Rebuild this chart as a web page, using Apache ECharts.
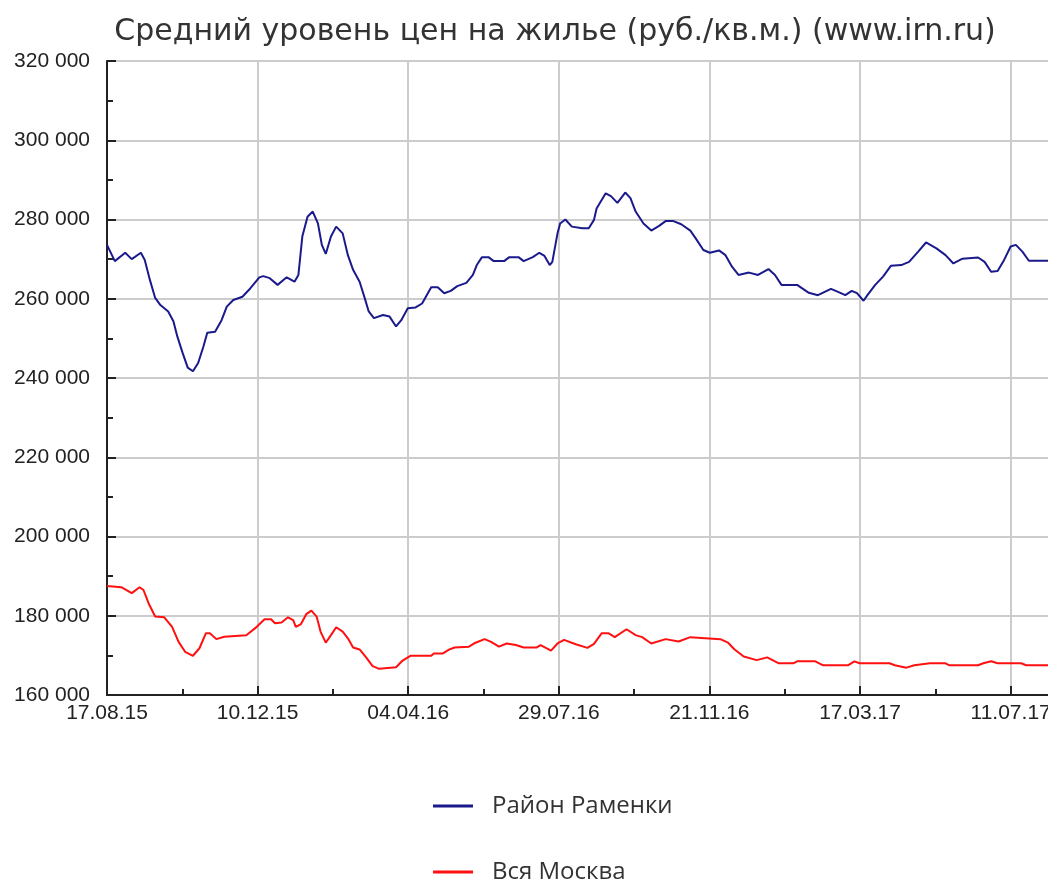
<!DOCTYPE html>
<html>
<head>
<meta charset="utf-8">
<script src="https://cdn.jsdelivr.net/npm/echarts@6/dist/echarts.min.js"></script>
<style>
html,body{margin:0;padding:0;overflow:hidden;background:#fff;}
#chart{width:1110px;height:881px;}
</style>
</head>
<body>
<div id="chart"></div>
<script>
// x values: days since 17.08.2015
const startDate = [2015, 7, 17];
const tickIntervalDays = 347 / 3;

const ramenkiDays = [0,6,14,19,26,29,33,37,41,47,51,54,58,62,66,70,74,77,83,88,92,97,104,110,117,120,125,131,138,144,147,150,154,158,162,165,168,172,176,181,185,189,194,198,201,205,212,217,222,226,231,237,242,249,254,259,264,269,276,281,284,288,293,297,305,309,316,320,327,332,336,340,342,346,348,352,357,365,370,374,376,383,387,392,398,402,406,412,418,424,429,435,441,448,452,458,463,470,475,480,485,493,500,508,513,518,530,539,546,556,561,567,572,576,581,584,590,596,602,610,616,623,629,637,644,650,657,669,674,679,684,689,694,698,703,708,721,735];
const ramenkiValues = [273600,269500,271600,270000,271600,269800,264700,260200,258400,256800,254300,250500,246400,242600,241700,243800,247900,251400,251700,254600,258000,259700,260500,262600,265400,265700,265200,263500,265400,264300,266000,275700,280700,282000,279000,273600,271300,275700,278200,276500,271000,267300,264300,260100,256800,255100,255900,255500,253000,254600,257600,257800,258800,262900,262900,261400,262000,263200,264000,266000,268500,270500,270500,269500,269500,270500,270500,269500,270500,271600,270800,268500,269300,276500,279000,280000,278200,277800,277800,279900,282800,286600,285900,284200,286800,285400,282000,279000,277200,278400,279600,279600,278800,277200,275300,272300,271600,272200,271000,268100,266000,266600,266000,267500,266000,263500,263500,261500,260900,262500,261800,260900,262000,261400,259500,260900,263500,265600,268300,268500,269300,271900,274200,272700,271000,268900,270100,270400,269300,266800,267000,269800,273200,273600,271900,269600,269600,269600];

const moscowDays = [0,11,19,25,28,32,37,44,50,55,60,66,71,76,79,84,90,107,115,121,126,129,134,139,143,145,149,153,157,161,164,168,172,176,181,185,189,194,199,204,209,222,227,233,249,251,258,263,267,278,283,290,295,301,307,314,320,330,333,341,346,351,360,369,374,380,385,390,399,406,411,418,429,439,448,471,477,482,489,499,507,516,527,530,544,550,569,574,578,601,605,614,620,632,644,647,669,673,679,684,702,706,721,735];
const moscowValues = [187500,187200,185700,187200,186500,183100,179800,179600,177200,173400,170900,169900,171800,175600,175600,174100,174700,175100,177200,179100,179100,178100,178300,179600,178900,177200,177900,180400,181300,179800,176000,173200,175100,177100,176000,174300,172000,171500,169500,167300,166600,167000,168700,169900,169900,170500,170500,171500,172000,172200,173200,174100,173400,172200,173000,172600,172000,172000,172600,171200,173000,173900,172800,171900,172900,175600,175600,174600,176600,175100,174600,173000,174100,173500,174600,174100,173200,171500,169700,168800,169500,168000,168000,168500,168500,167500,167500,168500,168000,168000,167500,166900,167500,168000,168000,167500,167500,168000,168500,168000,168000,167500,167500,167500];

const yTicks = [160000,180000,200000,220000,240000,260000,280000,300000,320000];
const seriesNames = ['Район Раменки', 'Вся Москва'];
const titleText = 'Средний уровень цен на жилье (руб./кв.м.) (www.irn.ru)';

function pairs(xs, ys){ return xs.map((x,i)=>[x, ys[i]]); }
function pad(n){ return (n<10?'0':'')+n; }
function dayLabel(v){
  const d = new Date(Date.UTC(startDate[0], startDate[1], startDate[2]) + Math.floor(v + 1e-6) * 86400000);
  return pad(d.getUTCDate()) + '.' + pad(d.getUTCMonth()+1) + '.' + pad(d.getUTCFullYear() % 100);
}
function fmtNum(v){ return String(v).replace(/\B(?=(\d{3})+(?!\d))/g, ' '); }

const legendBase = {
  orient: 'horizontal',
  left: 433,
  padding: 0,
  itemWidth: 40,
  itemHeight: 3,
  icon: 'rect',
  textStyle: {fontFamily: 'Open Sans', fontSize: 24, color: '#333', lineHeight: 28, padding: [0,0,0,14]}
};

const chart = echarts.init(document.getElementById('chart'), null, {renderer:'canvas'});
chart.setOption({
  animation: false,
  backgroundColor: '#fff',
  title: {
    text: titleText,
    left: 'center',
    top: 12,
    textStyle: {fontFamily: 'DejaVu Sans', fontSize: 30, fontWeight: 'normal', color: '#333'}
  },
  legend: [
    Object.assign({}, legendBase, {top: 792, data: [seriesNames[0]]}),
    Object.assign({}, legendBase, {top: 858, data: [seriesNames[1]]})
  ],
  grid: {left: 107, right: 0, top: 61, bottom: 186, containLabel: false},
  xAxis: {
    type: 'value',
    min: 0,
    max: 768,
    interval: tickIntervalDays,
    axisLine: {show: true, lineStyle: {color: '#222', width: 2}},
    axisTick: {show: true, inside: true, length: 9, lineStyle: {color: '#222', width: 2}},
    minorTick: {show: true, splitNumber: 2, length: 6, lineStyle: {color: '#222', width: 2}},
    splitLine: {show: true, lineStyle: {color: '#cccccc', width: 2}},
    axisLabel: {
      formatter: function(v){ return v > 760 ? '' : dayLabel(v); },
      fontFamily: 'Liberation Sans', fontSize: 21, color: '#222', margin: 8
    }
  },
  yAxis: {
    type: 'value',
    min: yTicks[0],
    max: yTicks[yTicks.length-1],
    interval: yTicks[1]-yTicks[0],
    axisLine: {show: true, lineStyle: {color: '#222', width: 2}},
    axisTick: {show: true, inside: true, length: 9, lineStyle: {color: '#222', width: 2}},
    minorTick: {show: true, splitNumber: 2, length: 6, lineStyle: {color: '#222', width: 2}},
    splitLine: {show: true, lineStyle: {color: '#cccccc', width: 2}},
    axisLabel: {
      formatter: fmtNum,
      fontFamily: 'Liberation Sans', fontSize: 21, color: '#222', margin: 17
    }
  },
  series: [
    {name: seriesNames[0], type: 'line', data: pairs(ramenkiDays, ramenkiValues), showSymbol: false, symbol: 'none',
     lineStyle: {color: '#1a1a8c', width: 2}, itemStyle: {color: '#1a1a8c'}},
    {name: seriesNames[1], type: 'line', data: pairs(moscowDays, moscowValues), showSymbol: false, symbol: 'none',
     lineStyle: {color: '#ff1010', width: 2}, itemStyle: {color: '#ff1010'}}
  ]
});
</script>
</body>
</html>
